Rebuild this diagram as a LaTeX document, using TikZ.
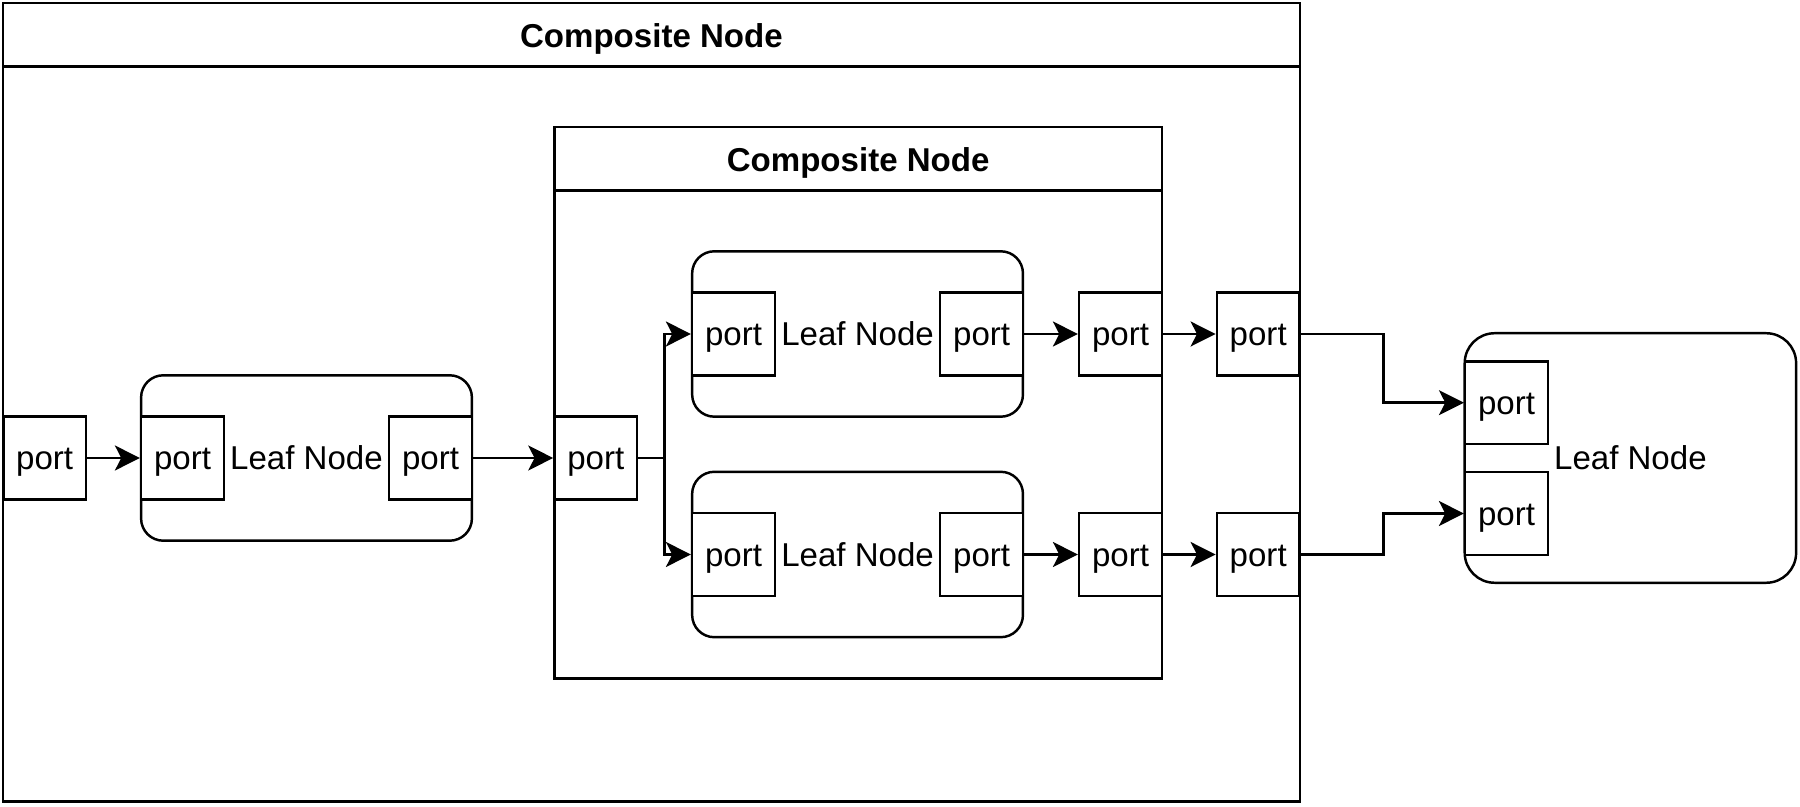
\documentclass[tikz,border=0pt]{standalone}
\usepackage{fontspec}
\setmainfont{Liberation Sans}
\usetikzlibrary{arrows.meta}
\begin{document}
\begin{tikzpicture}[x=0.01cm,y=-0.01cm,line width=0.7pt,
  font=\fontsize{9.4}{11}\selectfont,
  compbox/.style={draw,rectangle,inner sep=0pt},
  comptitle/.style={draw,rectangle,inner sep=0pt,anchor=north west,
    minimum height=0.632cm,text height=9.2pt,text depth=1.8pt,
    font=\fontsize{9.4}{11}\selectfont\bfseries},
  leafbox/.style={draw,rectangle,rounded corners=6.3pt,inner sep=0pt,
    minimum width=3.306cm,minimum height=1.653cm,text height=8.6pt,text depth=1.8pt},
  portbox/.style={draw,rectangle,fill=white,inner sep=0pt,
    minimum width=0.827cm,minimum height=0.827cm,text height=8.6pt,text depth=1.8pt},
  flow/.style={-{Stealth[length=7.1pt,width=7.1pt,inset=1.8pt]}}]
\useasboundingbox (0,0) rectangle (1800,807);

% outer composite
\node[compbox,minimum width=12.961cm,minimum height=7.979cm] (outer) at (651.4,402.4) {};
\node[comptitle,minimum width=12.961cm] (outertitle) at (outer.north west) {Composite Node};

% inner composite
\node[compbox,minimum width=6.073cm,minimum height=5.511cm] (inner) at (858.15,402.95) {};
\node[comptitle,minimum width=6.073cm] (innertitle) at (inner.north west) {Composite Node};

% leaf nodes
\node[leafbox] (leafa) at (306.5,458) {Leaf Node};
\node[leafbox] (leafb) at (857.55,334) {Leaf Node};
\node[leafbox] (leafc) at (857.55,554.5) {Leaf Node};
\node[leafbox,rounded corners=8.5pt,minimum width=3.312cm,minimum height=2.494cm] (leafd) at (1630.4,458) {Leaf Node};

% ports
\node[portbox] (pin) at (44.7,458) {port};
\node[portbox] (ain) at (182.5,458) {port};
\node[portbox] (aout) at (430.5,458) {port};
\node[portbox] (cin) at (595.8,458) {port};
\node[portbox] (bin) at (733.5,334) {port};
\node[portbox] (bout) at (981.6,334) {port};
\node[portbox] (cin2) at (733.5,554.5) {port};
\node[portbox] (cout2) at (981.6,554.5) {port};
\node[portbox] (iouta) at (1120.5,334) {port};
\node[portbox] (ioutb) at (1120.5,554.5) {port};
\node[portbox] (oouta) at (1258.2,334) {port};
\node[portbox] (ooutb) at (1258.2,554.5) {port};
\node[portbox] (dina) at (1506.5,402.7) {port};
\node[portbox] (dinb) at (1506.5,513.5) {port};

% connectors
\coordinate (fork) at (664.7,458);
\draw[flow] (pin) -- (ain);
\draw[flow] (aout) -- (cin);
\draw[flow] (cin.east) -- (fork) |- (bin.west);
\draw[flow] (cin.east) -- (fork) |- (cin2.west);
\draw[flow] (bout) -- (iouta);
\draw[flow] (cout2) -- (ioutb);
\draw[flow] (iouta) -- (oouta);
\draw[flow] (ioutb) -- (ooutb);
\draw[flow] (oouta.east) -- +(82.65,0) |- (dina.west);
\draw[flow] (ooutb.east) -- +(82.65,0) |- (dinb.west);
\end{tikzpicture}
\end{document}
